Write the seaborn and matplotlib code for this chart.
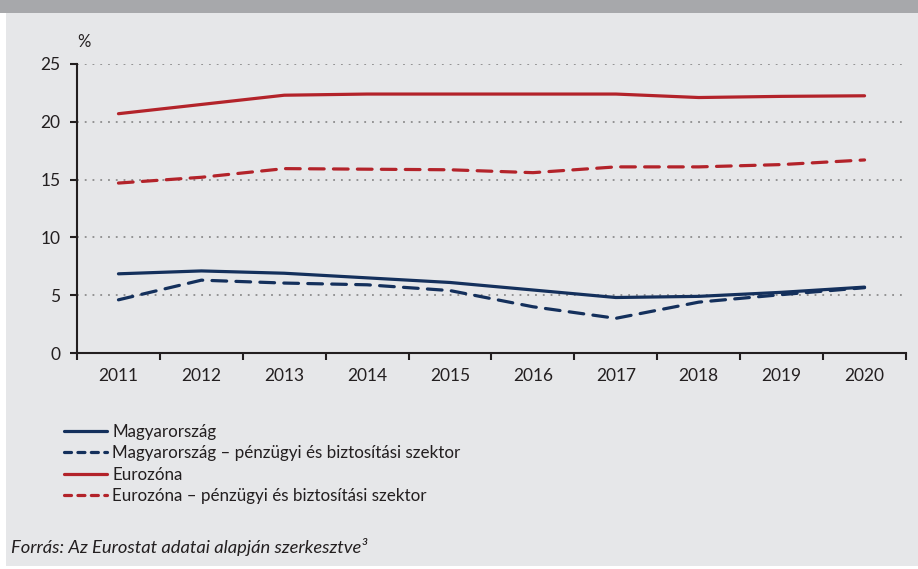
import pandas as pd
import matplotlib.pyplot as plt
import matplotlib.patches as mpatches
import seaborn as sns

# adatok (leolvasva az ábráról)
evek = ["2011", "2012", "2013", "2014", "2015", "2016", "2017", "2018", "2019", "2020"]
magyarorszag = [6.85, 7.1, 6.9, 6.5, 6.1, 5.45, 4.8, 4.9, 5.25, 5.7]
magyarorszag_penzugyi = [4.6, 6.3, 6.05, 5.9, 5.4, 4.0, 3.0, 4.4, 5.05, 5.65]
eurozona = [20.7, 21.5, 22.3, 22.4, 22.4, 22.4, 22.4, 22.1, 22.2, 22.25]
eurozona_penzugyi = [14.7, 15.2, 15.95, 15.9, 15.85, 15.6, 16.1, 16.1, 16.3, 16.7]

nevek = ["Magyarország",
         "Magyarország – pénzügyi és biztosítási szektor",
         "Eurozóna",
         "Eurozóna – pénzügyi és biztosítási szektor"]
sorok = [magyarorszag, magyarorszag_penzugyi, eurozona, eurozona_penzugyi]

df = pd.DataFrame({
    "Év": evek * 4,
    "Érték": [v for s in sorok for v in s],
    "Sor": [n for n in nevek for _ in evek],
})

KEK = "#14305c"
PIROS = "#b3232a"
SZOVEG = "#231f20"

sns.set_theme(style="white")
plt.rcParams["font.family"] = ["Lato", "DejaVu Sans"]

fig = plt.figure(figsize=(9.18, 5.69), dpi=100)
fig.patch.set_facecolor("white")
# háttér panelek
fig.add_artist(mpatches.Rectangle((6 / 918, 3 / 569), 912 / 918, 553 / 569,
                                  transform=fig.transFigure, facecolor="#e6e7e9",
                                  edgecolor="none", zorder=-2))
fig.add_artist(mpatches.Rectangle((0, 556 / 569), 1, 13 / 569,
                                  transform=fig.transFigure, facecolor="#a7a8ab",
                                  edgecolor="none", zorder=-1))

ax = fig.add_axes([77 / 918, 1 - 353 / 569, 829 / 918, 289 / 569])
ax.set_facecolor("none")

sns.lineplot(data=df, x="Év", y="Érték", hue="Sor", style="Sor",
             palette=[KEK, KEK, PIROS, PIROS],
             dashes=["", (4.6, 2.9), "", (4.6, 2.9)],
             linewidth=2.3, sort=False, ax=ax)
for ln in ax.get_lines():
    ln.set_dash_capstyle("round")
    ln.set_solid_capstyle("round")

ax.set_xlim(-0.5, 9.5)
ax.set_ylim(0, 25)
ax.set_yticks([0, 5, 10, 15, 20, 25])
for y in [5, 10, 15, 20, 25]:
    ax.axhline(y, color="#8c8c8c", lw=1.3, ls=(0, (1, 3.3)), zorder=0)

# x tengely: osztásjelek a kategóriák határán, feliratok középen
ax.set_xticks([i - 0.5 for i in range(11)])
ax.set_xticklabels([])
ax.set_xticks(range(10), minor=True)
ax.set_xticklabels(evek, minor=True)
ax.tick_params(axis="x", which="major", direction="out", length=5, width=1.5,
               color=SZOVEG, bottom=True)
ax.tick_params(axis="x", which="minor", length=0, pad=11, labelsize=12.5,
               labelcolor=SZOVEG)
ax.tick_params(axis="y", direction="out", length=5, width=1.5, color=SZOVEG,
               left=True, pad=7, labelsize=12.5, labelcolor=SZOVEG)

for s in ["top", "right"]:
    ax.spines[s].set_visible(False)
for s in ["left", "bottom"]:
    ax.spines[s].set_color(SZOVEG)
    ax.spines[s].set_linewidth(1.5)
ax.set_xlabel("")
ax.set_ylabel("")
ax.text(0.0, 1.05, "%", transform=ax.transAxes, fontsize=12, color=SZOVEG,
        ha="left", va="bottom")

leg = ax.legend(loc="upper left", bbox_to_anchor=(64 / 918, 1 - 424 / 569),
                bbox_transform=fig.transFigure, frameon=False, fontsize=12.25,
                handlelength=2.5, handletextpad=0.35, labelspacing=0.32,
                borderaxespad=0, borderpad=0)
for h, t in zip(leg.get_lines(), leg.get_texts()):
    t.set_color(SZOVEG)
    h.set_linewidth(2.3)
    h.set_dash_capstyle("round")
    if "–" in t.get_text():
        h.set_dashes((2.2, 2.0))

fig.text(11 / 918, 1 - 547 / 569,
         "Forrás: Az Eurostat adatai alapján szerkesztve³",
         fontsize=13.2, style="italic", color=SZOVEG, ha="left", va="center")

fig.savefig("out.png", dpi=100)
